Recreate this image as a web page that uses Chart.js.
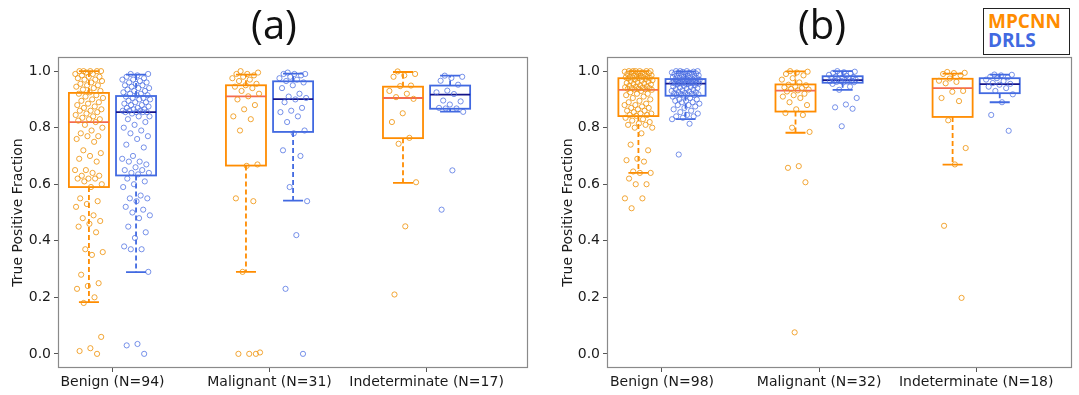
<!DOCTYPE html>
<html><head><meta charset="utf-8">
<script src="https://cdn.jsdelivr.net/npm/chart.js@4.4.1/dist/chart.umd.min.js"></script>
<style>
html,body{margin:0;padding:0;background:#fff;overflow:hidden;width:1079px;height:395px;position:relative;}
#wa{position:absolute;left:0;top:0;width:548px;height:395px;}
#wb{position:absolute;left:558px;top:0;width:528px;height:395px;}
#legend{position:absolute;left:983px;top:8px;width:87px;height:47px;border:1.5px solid #222;box-sizing:border-box;padding:3px 0 0 4px;font-family:"Open Sans";font-weight:700;font-size:19px;line-height:19px;background:#fff;}
</style></head><body>
<div id="wa"><canvas id="ca"></canvas></div>
<div id="wb"><canvas id="cb"></canvas></div>
<div id="legend"></div>
<script>
const seriesNames = ['MPCNN', 'DRLS'];
const panelTitles = ['(a)', '(b)'];
const yAxisTitle = 'True Positive Fraction';
const categoriesA = ['Benign (N=94)', 'Malignant (N=31)', 'Indeterminate (N=17)'];
const categoriesB = ['Benign (N=98)', 'Malignant (N=32)', 'Indeterminate (N=18)'];
const yTickValues = [0, 0.2, 0.4, 0.6, 0.8, 1.0];

// box statistics: [whiskerLow, q1, median, q3, whiskerHigh]
const boxA_MPCNN = [[0.183,0.590,0.820,0.923,1.000],[0.290,0.666,0.911,0.950,0.988],[0.605,0.763,0.905,0.945,0.997]];
const boxA_DRLS  = [[0.289,0.631,0.855,0.912,0.988],[0.542,0.785,0.901,0.964,0.991],[0.857,0.867,0.917,0.949,0.984]];
const boxB_MPCNN = [[0.640,0.841,0.934,0.975,1.000],[0.782,0.857,0.931,0.953,0.999],[0.669,0.838,0.940,0.973,0.991]];
const boxB_DRLS  = [[0.830,0.913,0.956,0.972,0.999],[0.934,0.959,0.968,0.982,1.000],[0.890,0.922,0.954,0.975,0.988]];

// individual points, panel (a)
const a_MPCNN_benign = [1.0,1.0,1.0,1.0,1.0,0.995,0.99,0.99,0.985,0.98,0.98,0.975,0.97,0.97,0.965,0.96,0.955,0.95,0.95,0.945,0.94,0.935,0.93,0.925,
 0.92,0.915,0.91,0.905,0.90,0.895,0.89,0.885,0.88,0.875,0.87,0.865,0.86,0.86,0.855,0.85,0.845,0.84,0.835,0.83,0.83,0.825,0.82,
 0.81,0.80,0.79,0.78,0.77,0.77,0.76,0.75,0.72,0.71,0.70,0.69,0.68,0.65,0.65,0.64,0.63,0.63,0.62,0.62,0.62,0.61,0.60,0.59,
 0.55,0.54,0.53,0.52,0.49,0.48,0.47,0.46,0.45,0.43,0.37,0.36,0.35,0.28,0.25,0.24,0.23,0.20,0.18,0.06,0.02,0.01,0.0];
const a_DRLS_benign = [0.99,0.99,0.985,0.98,0.975,0.97,0.97,0.965,0.96,0.96,0.955,0.95,0.95,0.945,0.94,0.94,0.935,0.93,0.93,0.925,0.92,0.92,0.915,0.915,
 0.91,0.905,0.905,0.90,0.90,0.895,0.89,0.89,0.885,0.88,0.88,0.875,0.87,0.87,0.865,0.865,0.86,0.86,0.86,0.855,0.855,0.855,0.855,
 0.85,0.84,0.84,0.83,0.82,0.81,0.80,0.79,0.78,0.77,0.76,0.74,0.73,0.70,0.69,0.68,0.68,0.67,0.66,0.65,0.65,0.64,0.64,0.635,
 0.62,0.61,0.60,0.59,0.56,0.55,0.55,0.54,0.52,0.51,0.50,0.49,0.48,0.45,0.43,0.41,0.38,0.37,0.37,0.29,0.035,0.03,0.0];
const a_MPCNN_malignant = [1.0,0.995,0.99,0.99,0.985,0.98,0.975,0.97,0.965,0.955,0.95,0.945,0.94,0.93,0.92,0.911,0.90,0.88,0.865,0.84,0.83,0.79,0.67,0.665,0.55,0.54,0.29,0.005,0.0,0.0,0.0];
const a_DRLS_malignant = [0.995,0.99,0.99,0.99,0.985,0.98,0.975,0.97,0.965,0.96,0.95,0.94,0.92,0.91,0.905,0.90,0.89,0.87,0.86,0.855,0.84,0.82,0.79,0.78,0.72,0.70,0.59,0.54,0.42,0.23,0.0];
const a_MPCNN_indet = [0.999,0.99,0.985,0.98,0.949,0.947,0.93,0.92,0.908,0.902,0.851,0.82,0.764,0.743,0.607,0.451,0.21];
const a_DRLS_indet = [0.984,0.98,0.976,0.966,0.952,0.931,0.925,0.919,0.896,0.893,0.882,0.87,0.868,0.868,0.856,0.649,0.51];

// individual points, panel (b)
const b_MPCNN_benign = [1.0,1.0,1.0,1.0,1.0,1.0,0.998,0.995,0.995,0.993,0.99,0.99,0.988,0.985,0.985,0.983,0.98,0.98,0.98,0.978,0.978,0.977,0.976,0.976,
 0.974,0.972,0.97,0.968,0.966,0.965,0.963,0.96,0.958,0.956,0.955,0.953,0.95,0.948,0.946,0.945,0.943,0.942,0.94,0.94,0.938,0.937,0.936,0.935,0.934,
 0.93,0.925,0.92,0.92,0.915,0.91,0.905,0.90,0.895,0.89,0.885,0.88,0.88,0.875,0.87,0.87,0.865,0.86,0.86,0.855,0.85,0.85,0.845,0.845,0.842,
 0.835,0.83,0.825,0.82,0.815,0.81,0.81,0.80,0.80,0.78,0.74,0.72,0.69,0.685,0.68,0.645,0.64,0.64,0.62,0.60,0.60,0.55,0.55,0.515];
const b_DRLS_benign = [1.0,1.0,1.0,1.0,0.998,0.997,0.995,0.994,0.993,0.992,0.99,0.99,0.988,0.987,0.985,0.984,0.983,0.982,0.98,0.979,0.978,0.976,0.975,0.973,
 0.971,0.97,0.97,0.969,0.968,0.967,0.966,0.966,0.965,0.964,0.963,0.963,0.962,0.961,0.96,0.96,0.959,0.959,0.958,0.958,0.957,0.957,0.957,0.956,0.956,
 0.955,0.953,0.95,0.948,0.946,0.944,0.942,0.94,0.938,0.936,0.934,0.932,0.93,0.928,0.926,0.925,0.923,0.922,0.92,0.919,0.918,0.917,0.916,0.915,0.914,
 0.91,0.905,0.90,0.90,0.895,0.895,0.89,0.89,0.885,0.88,0.88,0.875,0.87,0.865,0.86,0.855,0.85,0.845,0.84,0.84,0.835,0.83,0.814,0.705];
const b_MPCNN_malignant = [1.0,0.998,0.995,0.99,0.985,0.975,0.97,0.96,0.952,0.95,0.945,0.943,0.94,0.937,0.935,0.932,0.928,0.92,0.915,0.91,0.905,0.89,0.88,0.865,0.852,0.845,0.80,0.785,0.664,0.658,0.607,0.076];
const b_DRLS_malignant = [1.0,0.998,0.996,0.994,0.992,0.99,0.987,0.984,0.981,0.979,0.977,0.975,0.973,0.971,0.97,0.969,0.967,0.966,0.965,0.964,0.963,0.962,0.961,0.96,0.955,0.945,0.934,0.905,0.882,0.872,0.867,0.805];
const b_MPCNN_indet = [0.997,0.994,0.993,0.99,0.985,0.974,0.966,0.962,0.957,0.93,0.927,0.905,0.894,0.826,0.728,0.67,0.453,0.198];
const b_DRLS_indet = [0.988,0.987,0.985,0.98,0.978,0.975,0.97,0.965,0.958,0.955,0.952,0.945,0.94,0.93,0.918,0.89,0.845,0.789];

// ---- styling ----
const boxColors = ['#FF8C00', '#4169E1'];
const medianColors = ['#F46A50', '#14148A'];
const pointColors = ['rgba(240,150,20,0.85)', 'rgba(75,110,225,0.75)'];
const seriesOffset = [-0.15, 0.15];
const boxWidth = 0.255;
const jitterAmp = 0.09;
const textColor = '#1a1a1a';
const fontFam = '"DejaVu Sans", sans-serif';

function jitter(j) { return (((j * 0.6180339887 + 0.31) % 1) - 0.5) * 2 * jitterAmp; }

function boxPlugin(boxSets) {
  return {
    id: 'boxes',
    beforeDatasetsDraw(chart) {
      const {ctx, chartArea: ca, scales: {x, y}} = chart;
      ctx.save();
      // frame
      ctx.strokeStyle = '#8a8a8a'; ctx.lineWidth = 1.2;
      ctx.strokeRect(ca.left + 0.5, ca.top + 0.5, ca.right - ca.left - 1, ca.bottom - ca.top - 1);
      boxSets.forEach((set, s) => {
        set.forEach((st, i) => {
          const [lo, q1, med, q3, hi] = st;
          const cx = x.getPixelForValue(i + seriesOffset[s]);
          const hw = Math.abs(x.getPixelForValue(boxWidth / 2) - x.getPixelForValue(0));
          const yl = y.getPixelForValue(lo), y1 = y.getPixelForValue(q1), ym = y.getPixelForValue(med),
                y3 = y.getPixelForValue(q3), yh = y.getPixelForValue(hi);
          ctx.lineWidth = 1.8;
          ctx.strokeStyle = boxColors[s];
          // whiskers dashed
          ctx.setLineDash([5, 3]);
          ctx.beginPath(); ctx.moveTo(cx, y1); ctx.lineTo(cx, yl); ctx.moveTo(cx, y3); ctx.lineTo(cx, yh); ctx.stroke();
          ctx.setLineDash([]);
          // caps
          ctx.beginPath(); ctx.moveTo(cx - hw / 2, yl); ctx.lineTo(cx + hw / 2, yl); ctx.moveTo(cx - hw / 2, yh); ctx.lineTo(cx + hw / 2, yh); ctx.stroke();
          // box
          ctx.strokeRect(cx - hw, y3, 2 * hw, y1 - y3);
          // median
          ctx.strokeStyle = medianColors[s];
          ctx.beginPath(); ctx.moveTo(cx - hw, ym); ctx.lineTo(cx + hw, ym); ctx.stroke();
        });
      });
      ctx.restore();
    }
  };
}

function makeChart(canvasId, title, cats, pts, boxes, xMin, xMax, yTitlePad, rightW) {
  const datasets = seriesNames.map((name, s) => {
    const data = [];
    pts[s].forEach((arr, i) => arr.forEach((v, j) => data.push({x: i + seriesOffset[s] + jitter(j), y: v})));
    return {label: name, data, showLine: false, pointRadius: 2.6, pointBorderWidth: 1,
            pointBackgroundColor: 'rgba(0,0,0,0)', pointBorderColor: pointColors[s], pointHoverRadius: 2.6};
  });
  return new Chart(document.getElementById(canvasId), {
    type: 'scatter',
    data: {datasets},
    plugins: [boxPlugin(boxes)],
    options: {
      responsive: true, maintainAspectRatio: false, animation: false,
      layout: {padding: 0},
      plugins: {
        legend: {display: false}, tooltip: {enabled: false},
        title: {display: true, text: title, color: '#111', font: {family: '"Open Sans"', size: 40, weight: 'normal', lineHeight: 1.2}, padding: {top: 4, bottom: 5}}
      },
      scales: {
        x: {
          type: 'linear', min: xMin, max: xMax,
          afterBuildTicks: s => { s.ticks = cats.map((c, i) => ({value: i})); },
          afterFit: s => { s.height = 27; },
          ticks: {autoSkip: false, maxRotation: 0, padding: 2, color: textColor, font: {family: fontFam, size: 14},
                  callback: (v) => cats[v]},
          grid: {drawOnChartArea: false, drawTicks: true, tickLength: 4, tickColor: '#555'},
          border: {display: false}
        },
        y: {
          type: 'linear', min: -0.05, max: 1.05,
          afterBuildTicks: s => { s.ticks = yTickValues.map(v => ({value: v})); },
          afterFit: s => { s.width = canvasId === 'ca' ? 58 : 49; },
          ticks: {padding: 3, color: textColor, font: {family: fontFam, size: 14}, callback: v => v.toFixed(1)},
          grid: {drawOnChartArea: false, drawTicks: true, tickLength: 4, tickColor: '#555'},
          border: {display: false},
          title: {display: true, text: yAxisTitle, color: textColor, font: {family: fontFam, size: 14}, padding: {top: yTitlePad, bottom: 0}}
        },
        yr: {
          type: 'linear', position: 'right', display: true,
          grid: {display: false}, ticks: {display: false}, border: {display: false},
          afterFit: s => { s.width = rightW; }
        }
      }
    }
  });
}

makeChart('ca', panelTitles[0], categoriesA,
  [[a_MPCNN_benign, a_MPCNN_malignant, a_MPCNN_indet], [a_DRLS_benign, a_DRLS_malignant, a_DRLS_indet]],
  [boxA_MPCNN, boxA_DRLS], -0.347, 2.646, 10, 20);
makeChart('cb', panelTitles[1], categoriesB,
  [[b_MPCNN_benign, b_MPCNN_malignant, b_MPCNN_indet], [b_DRLS_benign, b_DRLS_malignant, b_DRLS_indet]],
  [boxB_MPCNN, boxB_DRLS], -0.35, 2.61, 2, 14);

const lg = document.getElementById('legend');
seriesNames.forEach((n, s) => { const d = document.createElement('div'); d.textContent = n; d.style.color = boxColors[s]; lg.appendChild(d); });
</script>
</body></html>
